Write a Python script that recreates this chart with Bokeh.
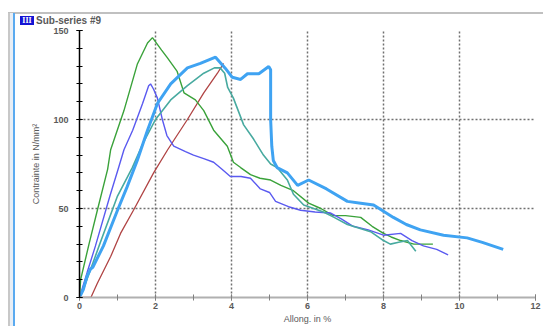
from bokeh.plotting import figure
from bokeh.embed import file_html
from bokeh.resources import INLINE
from bokeh.models import SingleIntervalTicker, Range1d, Div
from bokeh.layouts import column, row

# ---- data ----
green_x = [0, 0.03, 0.25, 0.47, 0.74, 0.82, 1.17, 1.52, 1.79, 1.92, 2.16, 2.3, 2.57, 2.75, 3.05, 3.27, 3.53, 3.89, 4.05, 4.24, 4.5, 4.75, 5.03, 5.3, 5.63, 6.03, 6.35, 6.68, 7.0, 7.4, 7.7, 8.0, 8.2, 8.45, 8.8, 9.3]
green_y = [0, 10, 30, 49, 72, 83, 105, 131, 143, 146, 139, 135, 127, 115, 111, 105, 94, 85, 76, 73, 69, 67, 66, 63, 60, 53, 50, 46, 46, 45, 40, 36, 34, 32, 30, 30]

purple_x = [0, 0.2, 0.42, 0.8, 1.03, 1.17, 1.4, 1.66, 1.82, 1.87, 1.95, 2.05, 2.18, 2.3, 2.48, 2.79, 3.0, 3.27, 3.53, 3.75, 3.97, 4.25, 4.5, 4.76, 5.0, 5.16, 5.5, 5.82, 6.2, 6.6, 6.9, 7.2, 7.6, 8.0, 8.45, 8.75, 9.05, 9.4, 9.7]
purple_y = [0, 14, 29, 57, 73, 83, 94, 109, 119, 120, 117, 112, 100, 91, 85, 82, 80, 78, 76, 72, 68, 68, 67, 61, 59, 54, 51, 49, 48, 47.5, 44, 40, 38, 35, 36, 32, 29, 27, 24]

lblue_x = [0, 0.1, 0.2, 0.29, 0.35, 0.63, 1.0, 1.25, 1.52, 1.79, 2.05, 2.4, 2.84, 3.18, 3.58, 3.84, 4.02, 4.24, 4.42, 4.72, 4.98, 5.03, 5.03, 5.06, 5.1, 5.2, 5.47, 5.74, 6.03, 6.5, 7.05, 7.4, 7.74, 8.26, 8.6, 8.97, 9.58, 10.2, 10.6, 11.15]
lblue_y = [0, 4.5, 12, 16, 17, 29, 49, 62, 77, 94, 109, 120, 129, 131.5, 135, 128.7, 123.7, 122.5, 125.7, 125.7, 129.8, 128, 100, 85, 77, 73, 70, 63, 66, 61, 54, 53, 52, 45, 41, 38, 35, 33.5, 31, 27]

teal_x = [0, 0.1, 0.55, 1.0, 1.39, 1.68, 2.0, 2.4, 2.84, 3.27, 3.55, 3.7, 3.82, 3.9, 4.05, 4.32, 4.58, 4.84, 5.03, 5.2, 5.47, 5.63, 5.9, 6.42, 6.7, 7.05, 7.66, 8.0, 8.18, 8.4, 8.63, 8.85]
teal_y = [0, 4.5, 31, 57, 73, 87, 100, 111, 119, 126, 129, 129, 126, 118, 112, 97, 89, 80, 75, 73, 66, 58, 52, 48, 45, 41, 37, 32, 30, 31, 32, 26]

red_x = [0, 0.3, 0.47, 0.82, 1.08, 1.42, 1.95, 2.32, 2.84, 3.27, 3.63, 3.79]
red_y = [0, 0, 8, 23, 36, 49, 70, 83, 100, 115, 126, 131.5]

title_text = "Sub-series #9"
x_label = "Allong. in %"
y_label = "Contrainte in N/mm²"

FONT = "Liberation Sans"
TXT = "#5a5a5a"

p = figure(width=527, height=301, output_backend="svg", toolbar_location=None,
           x_range=Range1d(0, 12), y_range=Range1d(0, 150),
           min_border_left=63, min_border_right=8, min_border_top=5, min_border_bottom=28,
           margin=(0, 0, 0, 0))
p.outline_line_color = None
p.background_fill_color = "white"
p.border_fill_color = "white"

# axes
p.xaxis.ticker = SingleIntervalTicker(interval=2, num_minor_ticks=2)
p.yaxis.ticker = SingleIntervalTicker(interval=50, num_minor_ticks=5)
for ax in (p.xaxis, p.yaxis):
    ax.major_tick_in = 3
    ax.major_tick_out = 3
    ax.minor_tick_in = 3
    ax.minor_tick_out = 3
    ax.major_label_text_font = FONT
    ax.major_label_text_font_size = "9px"
    ax.major_label_text_color = TXT
    ax.major_label_text_font_style = "bold"
    ax.axis_label_text_font = FONT
    ax.axis_label_text_font_size = "9px"
    ax.axis_label_text_color = TXT
    ax.axis_label_text_font_style = "normal"
p.xaxis.axis_label = x_label
p.yaxis.axis_label = y_label
p.xaxis.axis_line_color = "#b0b0b0"
p.xaxis.axis_line_width = 2
p.xaxis.major_tick_line_color = "#808080"
p.xaxis.minor_tick_line_color = "#808080"
p.xaxis.major_label_standoff = 2
p.xaxis.axis_label_standoff = 2
p.yaxis.axis_line_color = "black"
p.yaxis.axis_line_width = 1.5
p.yaxis.major_tick_line_color = "black"
p.yaxis.minor_tick_line_color = "black"
p.yaxis.major_label_standoff = 8
p.yaxis.axis_label_standoff = 9

# grids
p.xgrid.ticker = SingleIntervalTicker(interval=2)
p.ygrid.ticker = SingleIntervalTicker(interval=50)
for g in (p.xgrid, p.ygrid):
    g.grid_line_color = "#707070"
    g.grid_line_dash = "2 2"
    g.grid_line_width = 1.5

# series
p.line(red_x, red_y, line_color="#b04444", line_width=1.3)
p.line(green_x, green_y, line_color="#3aa23a", line_width=1.4)
p.line(purple_x, purple_y, line_color="#5a5af0", line_width=1.4)
p.line(teal_x, teal_y, line_color="#48aaa0", line_width=1.6)
p.line(lblue_x, lblue_y, line_color="#3fa3f2", line_width=3)

# window frame decorations + title strip
def bars(h, top):
    return (
        f'<div style="position:absolute;left:8px;top:{top}px;width:2px;height:{h - top}px;background:#c8c8c8;"></div>'
        f'<div style="position:absolute;left:10px;top:{top}px;width:3px;height:{h - top}px;background:#e8eef5;"></div>'
        f'<div style="position:absolute;left:13px;top:{top}px;width:2px;height:{h - top}px;background:#5aaaf0;"></div>')

top_div = Div(width=543, height=25, margin=(0, 0, 0, 0), text=(
    '<div style="position:relative;width:543px;height:25px;background:white;overflow:hidden;">'
    '<div style="position:absolute;left:8px;top:12px;width:535px;height:2px;background:#c0c0c0;"></div>'
    + bars(25, 13) +
    '<div style="position:absolute;left:20px;top:16px;width:14px;height:9px;background:#1414d4;'
    'color:white;font:bold 8px \'Liberation Serif\';line-height:9px;text-align:center;">III</div>'
    f'<div style="position:absolute;left:36px;top:15px;height:11px;font:bold 10px \'Liberation Sans\';'
    f'line-height:11px;color:{TXT};white-space:nowrap;">{title_text}</div>'
    '</div>'))

left_div = Div(width=16, height=301, margin=(0, 0, 0, 0), text=(
    '<div style="position:relative;width:16px;height:301px;background:white;">'
    + bars(301, 0) +
    '</div>'))

layout = column(top_div, row(left_div, p, spacing=0), spacing=0)

open("out.html", "w").write(file_html(layout, INLINE))
